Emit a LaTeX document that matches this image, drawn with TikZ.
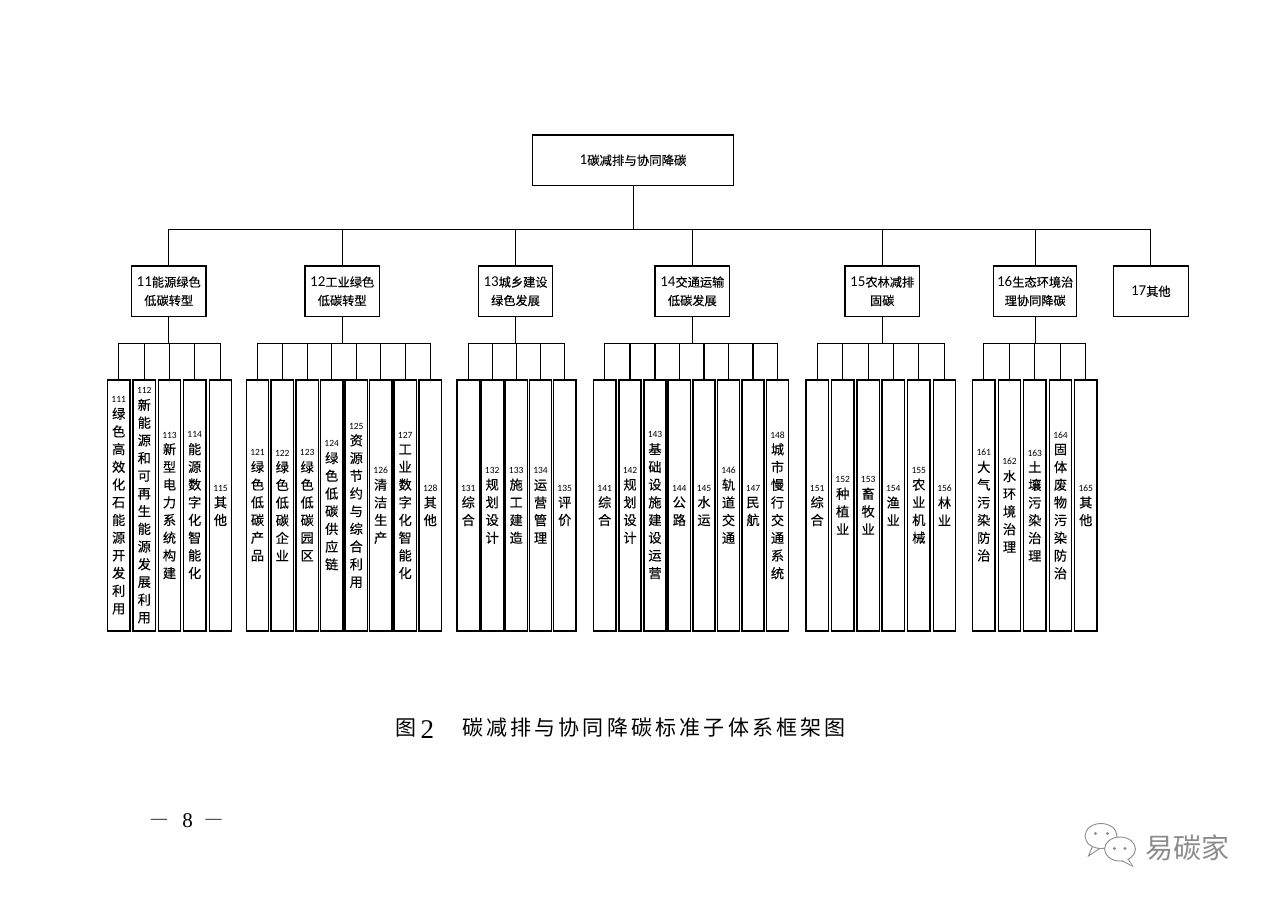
\documentclass[tikz,border=0pt]{standalone}
\usepackage{fontspec}
\setmainfont{Liberation Serif}
\newfontfamily\cjk{Noto Sans CJK SC}
\newfontfamily\cjkb{Noto Sans CJK SC}[FakeBold=0.25]
\newfontfamily\dg{Carlito}
\definecolor{wmgray}{RGB}{140,140,140}
\def\chsplit#1{\ifx\relax#1\else\hbox to 20pt{\hss#1\hss}\expandafter\chsplit\fi}
\def\spsplit#1{\ifx\relax#1\else\hfill #1\expandafter\spsplit\fi}
\newcommand\vtext[2]{\vbox{\hsize=20pt\lineskiplimit=-50pt\lineskip=0pt\parskip=0pt\baselineskip=17.7pt
\hbox to 20pt{\hss\dg\fontsize{9.5}{9.5}\selectfont #1\hss}\vskip-1.5pt
\cjkb\fontsize{13.2}{17.7}\selectfont\baselineskip=17.7pt\chsplit#2\relax}}
\newcommand\nm[1]{{\dg\fontsize{15}{18.5}\selectfont #1}}
\tikzset{
  rootbox/.style={draw, line width=1.4pt, fill=white, minimum width=200.6pt, minimum height=50.7pt, inner sep=0pt, font=\cjkb\fontsize{12.4}{16}\selectfont},
  midbox/.style={draw, line width=1.4pt, fill=white, minimum width=74.3pt, minimum height=50.5pt, inner sep=0pt, align=center, font=\cjkb\fontsize{12.2}{18.5}\selectfont},
  leafbox/.style={draw, line width=1.4pt, fill=white, minimum width=22.3pt, minimum height=251pt, inner sep=0pt},
  conn/.style={line width=1.2pt},
  topconn/.style={line width=1pt},
  wm/.style={draw=wmgray, line width=0.9pt}
}
\newcommand\leaf[3]{\node[leafbox] (n#2) at (#1,505.5) {\vtext{#2}{#3}};}
\begin{document}
\begin{tikzpicture}[x=1pt,y=-1pt]
\useasboundingbox[fill=white] (0,0) rectangle (1280,905);
% root
\node[rootbox] (root) at (633,160.3) {\nm{1}碳减排与协同降碳};
\coordinate (b0) at (633,229.5);
% level 2
\node[midbox] (g11) at (168.7,291.3) {\nm{11}能源绿色\\低碳转型};
\node[midbox] (g12) at (342.2,291.3) {\nm{12}工业绿色\\低碳转型};
\node[midbox] (g13) at (515.5,291.3) {\nm{13}城乡建设\\绿色发展};
\node[midbox] (g14) at (692.3,291.3) {\nm{14}交通运输\\低碳发展};
\node[midbox] (g15) at (882.2,291.3) {\nm{15}农林减排\\固碳};
\node[midbox, minimum width=83pt] (g16) at (1035.2,291.3) {\nm{16}生态环境治\\理协同降碳};
\node[midbox, minimum width=75pt] (g17) at (1150.8,291.3) {\nm{17}其他};
\draw[topconn] (root.south) -- (b0);
\foreach \g in {g11,g12,g13,g14,g15,g16,g17} {\draw[topconn] (\g.north) |- (b0);}
% group buses
\coordinate (b1) at (168.7,343.5);
\coordinate (b2) at (342.2,343.5);
\coordinate (b3) at (515.5,343.5);
\coordinate (b4) at (692.3,343.5);
\coordinate (b5) at (882.2,343.5);
\coordinate (b6) at (1035.2,343.5);
\foreach \i in {1,...,6} {\draw[conn] (g1\i.south) -- (b\i);}
% leaves group 11
\leaf{118.7}{111}{绿色高效化石能源开发利用}
\leaf{144.3}{112}{新能源和可再生能源发展利用}
\leaf{169.5}{113}{新型电力系统构建}
\leaf{194.7}{114}{能源数字化智能化}
\leaf{220.5}{115}{其他}
% group 12
\leaf{257.5}{121}{绿色低碳产品}
\leaf{282.3}{122}{绿色低碳企业}
\leaf{307.2}{123}{绿色低碳园区}
\leaf{331.7}{124}{绿色低碳供应链}
\leaf{356.3}{125}{资源节约与综合利用}
\leaf{380.7}{126}{清洁生产}
\leaf{405.2}{127}{工业数字化智能化}
\leaf{430.3}{128}{其他}
% group 13
\leaf{468.3}{131}{综合}
\leaf{492.2}{132}{规划设计}
\leaf{516.2}{133}{施工建造}
\leaf{540.5}{134}{运营管理}
\leaf{564.7}{135}{评价}
% group 14
\leaf{604.7}{141}{综合}
\leaf{630.0}{142}{规划设计}
\leaf{655.0}{143}{基础设施建设运营}
\leaf{679.3}{144}{公路}
\leaf{704.0}{145}{水运}
\leaf{728.5}{146}{轨道交通}
\leaf{753.0}{147}{民航}
\leaf{777.5}{148}{城市慢行交通系统}
% group 15
\leaf{817.2}{151}{综合}
\leaf{842.7}{152}{种植业}
\leaf{868.2}{153}{畜牧业}
\leaf{893.3}{154}{渔业}
\leaf{918.8}{155}{农业机械}
\leaf{944.5}{156}{林业}
% group 16
\leaf{983.8}{161}{大气污染防治}
\leaf{1009.5}{162}{水环境治理}
\leaf{1034.8}{163}{土壤污染治理}
\leaf{1060.5}{164}{固体废物污染防治}
\leaf{1085.8}{165}{其他}
% leaf connectors
\foreach \j in {1,...,5} {\draw[conn] (n11\j.north) |- (b1);}
\foreach \j in {1,...,8} {\draw[conn] (n12\j.north) |- (b2);}
\foreach \j in {1,...,5} {\draw[conn] (n13\j.north) |- (b3);}
\foreach \j in {1,...,8} {\draw[conn] (n14\j.north) |- (b4);}
\foreach \j in {1,...,6} {\draw[conn] (n15\j.north) |- (b5);}
\foreach \j in {1,...,5} {\draw[conn] (n16\j.north) |- (b6);}
% caption
\node[inner sep=0pt, font=\cjk\fontsize{21}{21}\selectfont] (capa) at (406.2,727.5) {图};
\node[inner sep=0pt, anchor=base, font=\fontsize{27}{27}\selectfont] (capb) at (427.3,738.3) {2};
\node[inner sep=0pt, anchor=west, font=\cjk\fontsize{21}{21}\selectfont] (capc) at (461.8,727.5)
  {\hbox to 384pt{碳\spsplit 减排与协同降碳标准子体系框架图\relax}};
% page number
\node[inner sep=0pt, anchor=base, font=\fontsize{16}{16}\selectfont] (pdl) at (159,823.5) {—};
\node[inner sep=0pt, anchor=base, font=\fontsize{21}{21}\selectfont] (pnum) at (187.7,827.3) {8};
\node[inner sep=0pt, anchor=base, font=\fontsize{16}{16}\selectfont] (pdr) at (213.6,823.5) {—};
% watermark
\filldraw[wm, fill=white] (1093,845) -- (1088.5,856) -- (1100,848.3) -- cycle;
\filldraw[wm, fill=white] (1101,836) ellipse [x radius=16, y radius=12.5];
\fill[wmgray] (1095.5,833.5) circle (1.7) (1107.5,833.5) circle (1.7);
\filldraw[wm, fill=white] (1127,857) -- (1132.5,866) -- (1121.5,860.5) -- cycle;
\filldraw[wm, fill=white] (1120,849) ellipse [x radius=15.5, y radius=12];
\fill[white] (1126.5,858.5) -- (1131.5,865) -- (1122.5,860) -- cycle;
\fill[wmgray] (1114.5,848.5) circle (1.6) (1125,848.5) circle (1.6);
\node[inner sep=0pt, anchor=west, text=wmgray, font=\cjk\fontsize{28}{28}\selectfont] (wmtext) at (1145,847.5) {易碳家};
\end{tikzpicture}
\end{document}
